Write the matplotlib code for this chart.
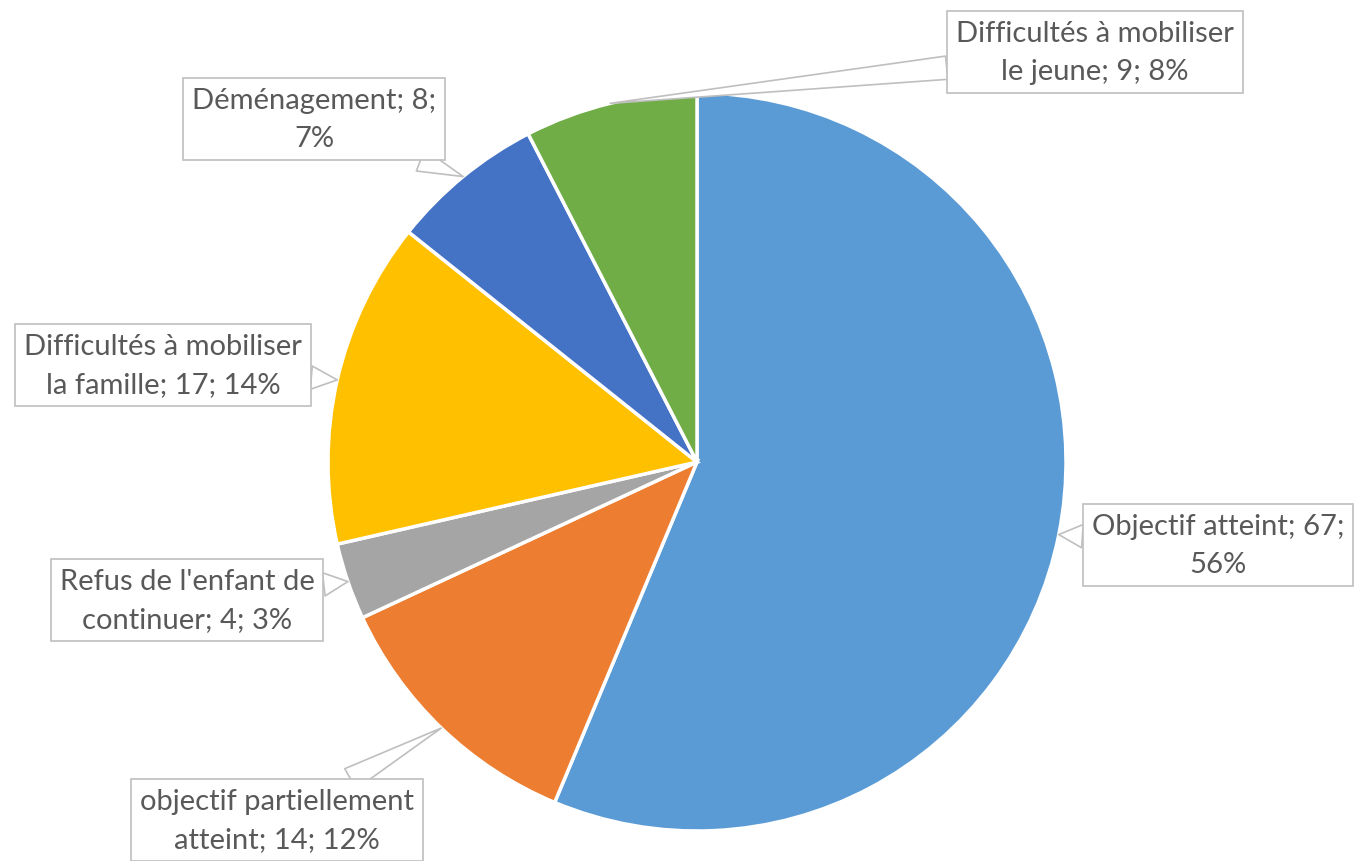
import numpy as np
import matplotlib
matplotlib.use('Agg')
import matplotlib.pyplot as plt

# donnees
labels = ['Objectif atteint', 'objectif partiellement atteint', "Refus de l'enfant de continuer",
          'Difficultés à mobiliser la famille', 'Déménagement', 'Difficultés à mobiliser le jeune']
values = [67, 14, 4, 17, 8, 9]
pcts = ['56%', '12%', '3%', '14%', '7%', '8%']
box_text = ['Objectif atteint; 67;\n56%',
            'objectif partiellement\natteint; 14; 12%',
            "Refus de l'enfant de\ncontinuer; 4; 3%",
            'Difficultés à mobiliser\nla famille; 17; 14%',
            'Déménagement; 8;\n7%',
            'Difficultés à mobiliser\nle jeune; 9; 8%']
colors = ['#5B9BD5', '#ED7D31', '#A5A5A5', '#FFC000', '#4472C4', '#70AD47']

W, H = 1354, 862
cx, cy, R = 697, H - 463, 369
# centre des etiquettes (pixels, y vers le bas)
box_pos = [(1218, 546), (277, 821), (187, 601), (163, 366), (314, 120), (1095, 53)]

fig = plt.figure(figsize=(W / 100, H / 100), dpi=100)
ax = fig.add_axes([0, 0, 1, 1])
ax.set_xlim(0, W)
ax.set_ylim(0, H)
ax.set_aspect('equal')
ax.axis('off')

wedges, _ = ax.pie(values, center=(cx, cy), radius=R, startangle=90, counterclock=False,
                   colors=colors, wedgeprops=dict(edgecolor='white', linewidth=2.5))
ax.set_xlim(0, W)
ax.set_ylim(0, H)

for w, txt, (bx, by) in zip(wedges, box_text, box_pos):
    mid = np.deg2rad((w.theta1 + w.theta2) / 2)
    tip = (cx + R * np.cos(mid), cy + R * np.sin(mid))
    ax.annotate(txt, xy=tip, xytext=(bx, H - by), ha='center', va='center',
                fontsize=21, family='Lato', color='#595959', linespacing=1.55,
                bbox=dict(boxstyle='square,pad=0.3', fc='white', ec='#BFBFBF', lw=1.2),
                arrowprops=dict(arrowstyle='wedge,tail_width=0.8,shrink_factor=0.5',
                                fc='white', ec='#BFBFBF', lw=1.2,
                                shrinkA=0, shrinkB=0),
                annotation_clip=False)

fig.savefig('out.png', dpi=100)
